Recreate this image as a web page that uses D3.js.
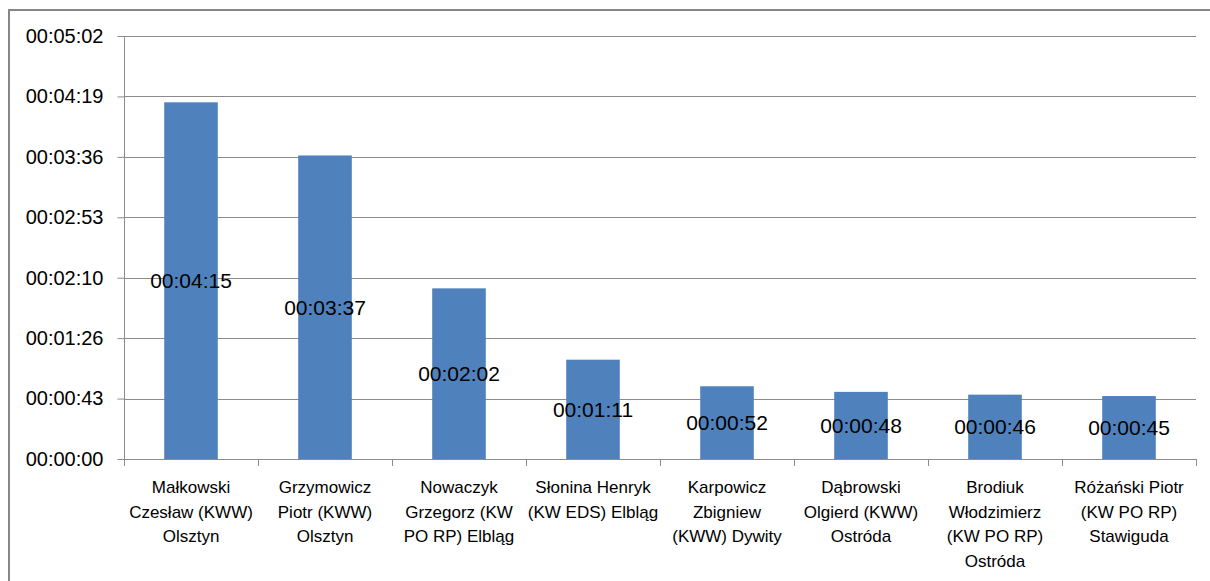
<!DOCTYPE html>
<html><head><meta charset="utf-8">
<script src="https://cdn.jsdelivr.net/npm/d3@7"></script>
<style>body{margin:0;background:#fff}svg{display:block}text{font-family:"Liberation Sans",Arial,sans-serif;fill:#000}</style>
</head><body>
<script>
const categories = [
  ["Małkowski","Czesław (KWW)","Olsztyn"],
  ["Grzymowicz","Piotr (KWW)","Olsztyn"],
  ["Nowaczyk","Grzegorz (KW","PO RP) Elbląg"],
  ["Słonina Henryk","(KW EDS) Elbląg"],
  ["Karpowicz","Zbigniew","(KWW) Dywity"],
  ["Dąbrowski","Olgierd (KWW)","Ostróda"],
  ["Brodiuk","Włodzimierz","(KW PO RP)","Ostróda"],
  ["Różański Piotr","(KW PO RP)","Stawiguda"]
];
const valuesSec = [255, 217, 122, 71, 52, 48, 46, 45];
const tickSec = [0, 43.2, 86.4, 129.6, 172.8, 216, 259.2, 302.4];

const W = 1210, H = 581;
const svg = d3.select("body").append("svg").attr("width", W).attr("height", H);
svg.append("rect").attr("x", 9).attr("y", 10).attr("width", 1220).attr("height", 600)
  .attr("fill", "none").attr("stroke", "#868686").attr("stroke-width", 2);

const x = d3.scaleBand().domain(d3.range(categories.length)).range([124, 1196]).paddingInner(0.6).paddingOuter(0.3);
const xb = d3.scaleBand().domain(d3.range(categories.length)).range([124, 1196]);
const y = d3.scaleLinear().domain([0, 302.4]).range([459, 36]);

const fmt = s => {
  const t = Math.round(s);
  const h = Math.floor(t / 3600), m = Math.floor((t % 3600) / 60), sec = t % 60;
  return [h, m, sec].map(v => String(v).padStart(2, "0")).join(":");
};

// gridlines
svg.append("g").selectAll("line").data(tickSec.slice(1)).join("line")
  .attr("x1", 124).attr("x2", 1196).attr("y1", d => Math.round(y(d)) + 0.5).attr("y2", d => Math.round(y(d)) + 0.5)
  .attr("stroke", "#8c8c8c").attr("stroke-width", 1);

// y axis
const yAxis = d3.axisLeft(y).tickValues(tickSec).tickFormat(fmt).tickSize(7).tickPadding(14);
const gy = svg.append("g").attr("transform", "translate(124.5,0)").call(yAxis);
gy.selectAll("text").attr("font-size", 20).attr("fill", "#000").style("font-family", "'Liberation Sans', Arial, sans-serif");
gy.selectAll("line,path").attr("stroke", "#8c8c8c");
gy.select(".domain").attr("d", "M0," + y(302.4) + "V" + y(0));

// bars
svg.append("g").selectAll("rect").data(valuesSec).join("rect")
  .attr("x", (d, i) => x(i)).attr("width", x.bandwidth())
  .attr("y", d => y(d)).attr("height", d => y(0) - y(d))
  .attr("fill", "#4f81bd");

// x axis line and ticks
svg.append("line").attr("x1", 124).attr("x2", 1196).attr("y1", 459.5).attr("y2", 459.5).attr("stroke", "#8c8c8c");
svg.append("g").selectAll("line").data(d3.range(categories.length + 1)).join("line")
  .attr("x1", i => Math.round(124 + i * xb.step()) + 0.5).attr("x2", i => Math.round(124 + i * xb.step()) + 0.5)
  .attr("y1", 459).attr("y2", 466).attr("stroke", "#8c8c8c");

// category labels
const cl = svg.append("g").selectAll("text").data(categories).join("text")
  .attr("x", (d, i) => xb(i) + xb.bandwidth() / 2).attr("y", 493)
  .attr("text-anchor", "middle").attr("font-size", 17);
cl.selectAll("tspan").data(d => d).join("tspan")
  .attr("x", function () { return this.parentNode.getAttribute("x"); })
  .attr("dy", (d, j) => j === 0 ? 0 : 24.5).text(d => d);

// data labels
svg.append("g").selectAll("text").data(valuesSec).join("text")
  .attr("x", (d, i) => x(i) + x.bandwidth() / 2)
  .attr("y", d => (y(d) + y(0)) / 2)
  .attr("dy", "0.36em")
  .attr("text-anchor", "middle").attr("font-size", 21)
  .text(fmt);
</script>
</body></html>
